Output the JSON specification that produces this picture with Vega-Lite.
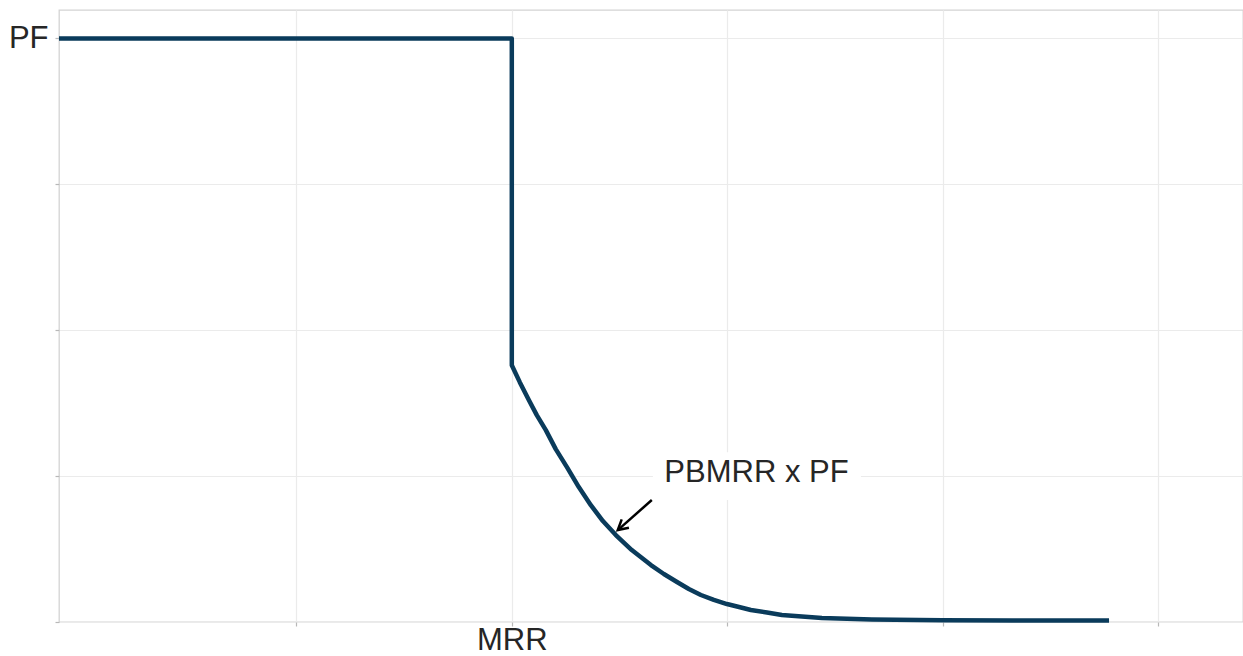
{
  "$schema": "https://vega.github.io/schema/vega-lite/v6.json",
  "autosize": {"type": "none"},
  "padding": {"left": 59, "top": 10, "right": 0, "bottom": 34},
  "width": 1184,
  "height": 612,
  "background": "white",
  "config": {
    "view": {"stroke": "#d4d4d4", "strokeWidth": 1.3},
    "font": "Liberation Sans",
    "axis": {
      "domain": false,
      "grid": true,
      "gridColor": "#ebebeb",
      "gridWidth": 1.2,
      "tickColor": "#b8b8b8",
      "tickSize": 4,
      "tickWidth": 1.2,
      "labelFont": "Liberation Sans",
      "labelFontSize": 31,
      "labelColor": "#262626",
      "title": null
    }
  },
  "datasets": {
    "curve": [
      {"i": 1, "x": -0.1024, "y": 4.0},
      {"i": 2, "x": 2.0, "y": 4.0},
      {"i": 3, "x": 2.0, "y": 1.76},
      {"i": 4, "x": 2.037, "y": 1.644},
      {"i": 5, "x": 2.079, "y": 1.521},
      {"i": 6, "x": 2.116, "y": 1.418},
      {"i": 7, "x": 2.158, "y": 1.315},
      {"i": 8, "x": 2.204, "y": 1.185},
      {"i": 9, "x": 2.256, "y": 1.062},
      {"i": 10, "x": 2.311, "y": 0.925},
      {"i": 11, "x": 2.367, "y": 0.801},
      {"i": 12, "x": 2.423, "y": 0.692},
      {"i": 13, "x": 2.483, "y": 0.596},
      {"i": 14, "x": 2.557, "y": 0.493},
      {"i": 15, "x": 2.646, "y": 0.39},
      {"i": 16, "x": 2.706, "y": 0.329},
      {"i": 17, "x": 2.767, "y": 0.274},
      {"i": 18, "x": 2.822, "y": 0.226},
      {"i": 19, "x": 2.878, "y": 0.185},
      {"i": 20, "x": 2.938, "y": 0.151},
      {"i": 21, "x": 2.999, "y": 0.123},
      {"i": 22, "x": 3.055, "y": 0.103},
      {"i": 23, "x": 3.11, "y": 0.082},
      {"i": 24, "x": 3.185, "y": 0.065},
      {"i": 25, "x": 3.254, "y": 0.048},
      {"i": 26, "x": 3.347, "y": 0.038},
      {"i": 27, "x": 3.44, "y": 0.027},
      {"i": 28, "x": 3.672, "y": 0.017},
      {"i": 29, "x": 3.998, "y": 0.012},
      {"i": 30, "x": 4.323, "y": 0.01},
      {"i": 31, "x": 4.773, "y": 0.01}
    ],
    "label": [
      {"x": 3.136, "y": 1.021, "x1": 2.655, "x2": 3.621, "y1": 0.836, "y2": 1.164, "text": "PBMRR x PF"}
    ],
    "arrow": [
      {"x": 2.65, "y": 0.836, "x2": 2.492, "y2": 0.63}
    ]
  },
  "layer": [
    {
      "data": {"name": "curve"},
      "mark": {"type": "line", "color": "#0a3b5b", "strokeWidth": 4.5, "strokeJoin": "round", "strokeCap": "butt"},
      "encoding": {
        "x": {
          "field": "x", "type": "quantitative",
          "scale": {"domain": [-0.1024, 5.395], "nice": false, "zero": false},
          "axis": {"values": [1, 2, 3, 4, 5], "labelExpr": "datum.value == 2 ? 'MRR' : ''", "labelPadding": -1}
        },
        "y": {
          "field": "y", "type": "quantitative",
          "scale": {"domain": [0, 4.195], "nice": false, "zero": false},
          "axis": {"values": [0, 1, 2, 3, 4], "labelExpr": "datum.value == 4 ? 'PF' : ''", "labelPadding": 7}
        },
        "order": {"field": "i"}
      }
    },
    {
      "data": {"name": "label"},
      "mark": {"type": "rect", "fill": "white"},
      "encoding": {
        "x": {"field": "x1", "type": "quantitative"},
        "x2": {"field": "x2"},
        "y": {"field": "y1", "type": "quantitative"},
        "y2": {"field": "y2"}
      }
    },
    {
      "data": {"name": "label"},
      "mark": {"type": "text", "font": "Liberation Sans", "fontSize": 31, "color": "#262626", "baseline": "middle", "align": "center"},
      "encoding": {
        "x": {"field": "x", "type": "quantitative"},
        "y": {"field": "y", "type": "quantitative"},
        "text": {"field": "text"}
      }
    },
    {
      "data": {"name": "arrow"},
      "mark": {"type": "rule", "color": "black", "strokeWidth": 2.5},
      "encoding": {
        "x": {"field": "x", "type": "quantitative"},
        "y": {"field": "y", "type": "quantitative"},
        "x2": {"field": "x2"},
        "y2": {"field": "y2"}
      }
    },
    {
      "data": {"name": "arrow"},
      "mark": {"type": "point", "shape": "M-0.55,1L0,0L0.55,1", "filled": false, "stroke": "black", "strokeWidth": 2.5, "size": 400, "angle": 229, "opacity": 1},
      "encoding": {
        "x": {"field": "x2", "type": "quantitative"},
        "y": {"field": "y2", "type": "quantitative"}
      }
    }
  ]
}
